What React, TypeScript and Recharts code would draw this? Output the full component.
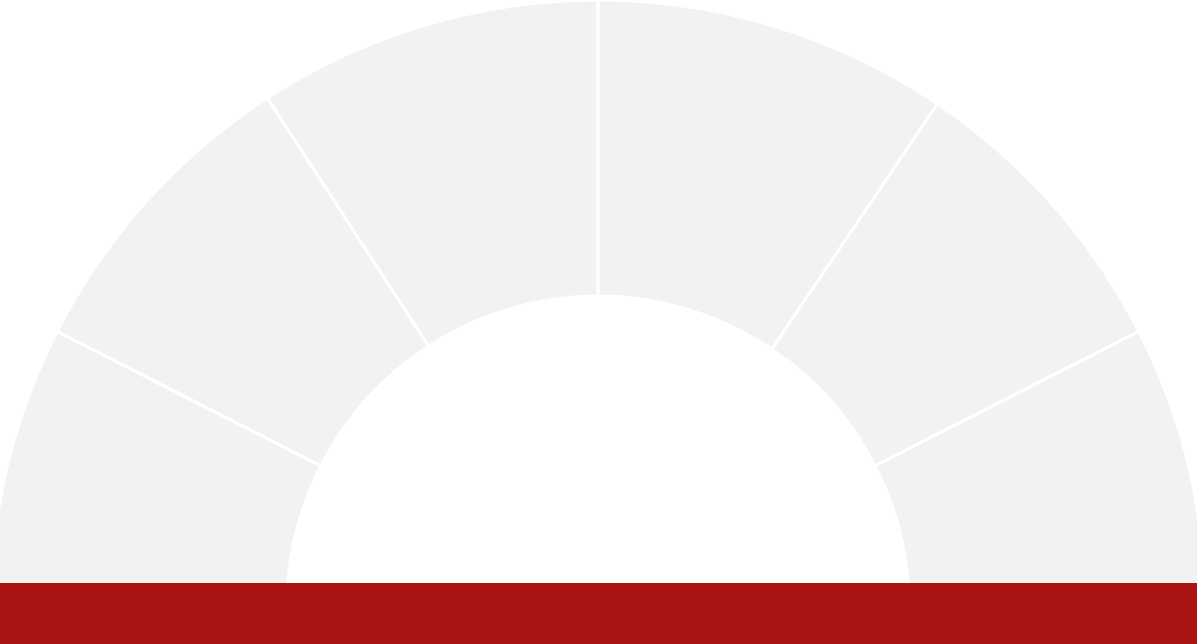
import { PieChart, Pie, Cell } from 'recharts';

const segments = ['A', 'B', 'C', 'D', 'E', 'F'];
const values = [27, 30, 33, 34, 29, 27];

const data = segments.map((name, i) => ({ name, value: values[i] }));

export default function App() {
  return (
    <div style={{ position: 'absolute', left: 0, top: 0, width: 1197, height: 644, background: '#fff', overflow: 'hidden' }}>
      <PieChart width={1197} height={644} margin={{ top: 0, right: 0, bottom: 0, left: 0 }}>
        <Pie
          data={data}
          dataKey="value"
          cx={598}
          cy={607}
          startAngle={180}
          endAngle={0}
          innerRadius={311}
          outerRadius={607}
          stroke="#ffffff"
          strokeWidth={3}
          isAnimationActive={false}
        >
          {data.map((d) => (
            <Cell key={d.name} fill="#f2f2f2" />
          ))}
        </Pie>
      </PieChart>
      <div style={{ position: 'absolute', left: 0, top: 583, width: 1197, height: 61, background: '#aa1414' }} />
    </div>
  );
}
